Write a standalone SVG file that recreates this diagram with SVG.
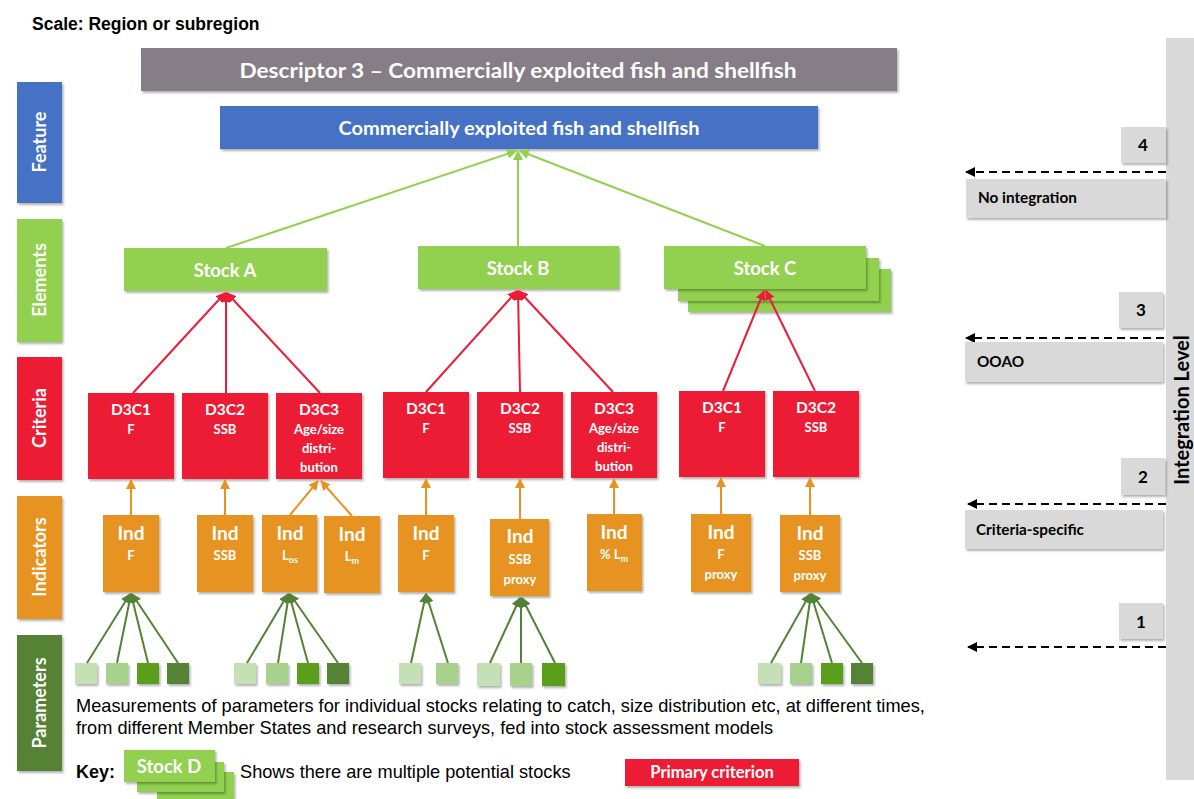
<svg xmlns="http://www.w3.org/2000/svg" width="1194" height="799" viewBox="0 0 1194 799">
<defs>
<filter id="sh" x="-10%" y="-10%" width="130%" height="150%"><feDropShadow dx="1.5" dy="2" stdDeviation="1.2" flood-color="#000" flood-opacity="0.3"/></filter>
<marker id="aG" viewBox="0 0 10 10" refX="9" refY="5" markerWidth="10" markerHeight="10" markerUnits="userSpaceOnUse" orient="auto"><path d="M0,0 L10,5 L0,10 z" fill="#92D050"/></marker>
<marker id="aR" viewBox="0 0 10 10" refX="9" refY="5" markerWidth="10" markerHeight="10" markerUnits="userSpaceOnUse" orient="auto"><path d="M0,0 L10,5 L0,10 z" fill="#ED1C36"/></marker>
<marker id="aO" viewBox="0 0 10 10" refX="9" refY="5" markerWidth="10" markerHeight="10" markerUnits="userSpaceOnUse" orient="auto"><path d="M0,0 L10,5 L0,10 z" fill="#E69323"/></marker>
<marker id="aD" viewBox="0 0 10 10" refX="9" refY="5" markerWidth="10" markerHeight="10" markerUnits="userSpaceOnUse" orient="auto"><path d="M0,0 L10,5 L0,10 z" fill="#548235"/></marker>
<marker id="aK" viewBox="0 0 10 10" refX="9" refY="5" markerWidth="10" markerHeight="10" markerUnits="userSpaceOnUse" orient="auto"><path d="M0,0 L10,5 L0,10 z" fill="#000"/></marker>
</defs>
<style>
.bx{filter:url(#sh)}
.gray{fill:#857E86}
.blue{fill:#4472C4}
.grn{fill:#92D050}
.red{fill:#ED1C36}
.org{fill:#E69323}
.dgr{fill:#548235}
.lg{fill:#D9D9D9}
.p1{fill:#C5E0B4}
.p2{fill:#A9D18E}
.p3{fill:#5A9E1E}
.p4{fill:#548235}
.w{fill:#fff;font-family:Lato,"Open Sans",sans-serif;font-weight:bold;text-anchor:middle}
.k{fill:#000;font-family:Lato,"Open Sans",sans-serif;font-weight:bold}
.ar{fill:#000;font-family:"Liberation Sans",Arial,sans-serif}
.cl{font-size:15.5px}
.cs{font-size:13px}
.il{font-size:19px}
.is{font-size:13px}
.lG{stroke:#92D050;stroke-width:2;fill:none;marker-end:url(#aG)}
.lR{stroke:#ED1C36;stroke-width:2;fill:none;marker-end:url(#aR)}
.lO{stroke:#E69323;stroke-width:2;fill:none;marker-end:url(#aO)}
.lD{stroke:#548235;stroke-width:2;fill:none;marker-end:url(#aD)}
.lK{stroke:#000;stroke-width:2;stroke-dasharray:8 5;fill:none;marker-end:url(#aK)}
</style>

<text class="ar" x="32" y="30" font-size="17.5" font-weight="bold">Scale: Region or subregion</text>

<!-- left level bars -->
<g id="lvl-feature"><rect class="blue bx" x="17" y="82" width="45" height="121"/><text class="w" font-size="18" transform="translate(46,142) rotate(-90)">Feature</text></g>
<g id="lvl-elements"><rect class="grn bx" x="17" y="219" width="45" height="123"/><text class="w" font-size="18" transform="translate(46,280) rotate(-90)">Elements</text></g>
<g id="lvl-criteria"><rect class="red bx" x="17" y="357" width="45" height="123"/><text class="w" font-size="18" transform="translate(46,418) rotate(-90)">Criteria</text></g>
<g id="lvl-indicators"><rect class="org bx" x="17" y="496" width="45" height="123"/><text class="w" font-size="18" transform="translate(46,557) rotate(-90)">Indicators</text></g>
<g id="lvl-parameters"><rect class="dgr bx" x="17" y="635" width="45" height="136"/><text class="w" font-size="18" transform="translate(46,703) rotate(-90)">Parameters</text></g>

<!-- top -->
<g id="descriptor"><rect class="gray bx" x="141" y="48" width="756" height="43"/><text class="w" x="518" y="78" font-size="21" textLength="557" lengthAdjust="spacingAndGlyphs">Descriptor 3 – Commercially exploited fish and shellfish</text></g>
<g id="feature"><rect class="blue bx" x="220" y="106" width="598" height="43"/><text class="w" x="519" y="135" font-size="18" textLength="361" lengthAdjust="spacingAndGlyphs">Commercially exploited fish and shellfish</text></g>

<!-- stocks -->
<g id="stockA"><rect class="grn bx" x="124" y="248" width="203" height="43"/><text class="w" x="225" y="277" font-size="18.5">Stock A</text></g>
<g id="stockB"><rect class="grn bx" x="418" y="246" width="201" height="43"/><text class="w" x="518" y="275" font-size="18.5">Stock B</text></g>
<g id="stockC"><rect class="grn bx" x="688" y="269" width="203" height="43"/><rect class="grn bx" x="678" y="258" width="201" height="43"/><rect class="grn bx" x="664" y="246" width="202" height="43"/><text class="w" x="765" y="275" font-size="18.5">Stock C</text></g>

<!-- criteria -->
<g id="critA1"><rect class="red bx" x="88" y="393" width="86" height="86"/><text class="w cl" x="131" y="415">D3C1</text><text class="w cs" x="131" y="434">F</text></g>
<g id="critA2"><rect class="red bx" x="182" y="393" width="86" height="86"/><text class="w cl" x="225" y="415">D3C2</text><text class="w cs" x="225" y="434">SSB</text></g>
<g id="critA3"><rect class="red bx" x="276" y="393" width="86" height="86"/><text class="w cl" x="319" y="415">D3C3</text><text class="w cs" x="319" y="434">Age/size</text><text class="w cs" x="319" y="453">distri-</text><text class="w cs" x="319" y="472">bution</text></g>
<g id="critB1"><rect class="red bx" x="383" y="392" width="86" height="86"/><text class="w cl" x="426" y="414">D3C1</text><text class="w cs" x="426" y="433">F</text></g>
<g id="critB2"><rect class="red bx" x="477" y="392" width="86" height="86"/><text class="w cl" x="520" y="414">D3C2</text><text class="w cs" x="520" y="433">SSB</text></g>
<g id="critB3"><rect class="red bx" x="571" y="392" width="86" height="86"/><text class="w cl" x="614" y="414">D3C3</text><text class="w cs" x="614" y="433">Age/size</text><text class="w cs" x="614" y="452">distri-</text><text class="w cs" x="614" y="471">bution</text></g>
<g id="critC1"><rect class="red bx" x="679" y="391" width="86" height="86"/><text class="w cl" x="722" y="413">D3C1</text><text class="w cs" x="722" y="432">F</text></g>
<g id="critC2"><rect class="red bx" x="773" y="391" width="86" height="86"/><text class="w cl" x="816" y="413">D3C2</text><text class="w cs" x="816" y="432">SSB</text></g>

<!-- indicators -->
<g id="indA1"><rect class="org bx" x="103" y="515" width="56" height="77"/><text class="w il" x="131" y="540">Ind</text><text class="w is" x="131" y="560">F</text></g>
<g id="indA2"><rect class="org bx" x="197" y="515" width="56" height="77"/><text class="w il" x="225" y="540">Ind</text><text class="w is" x="225" y="560">SSB</text></g>
<g id="indA3"><rect class="org bx" x="262" y="515" width="55" height="77"/><text class="w il" x="290" y="540">Ind</text><text class="w is" x="290" y="560">L<tspan font-size="9" dy="3">os</tspan></text></g>
<g id="indA4"><rect class="org bx" x="324" y="516" width="56" height="77"/><text class="w il" x="352" y="541">Ind</text><text class="w is" x="352" y="561">L<tspan font-size="9" dy="3">m</tspan></text></g>
<g id="indB1"><rect class="org bx" x="398" y="515" width="56" height="77"/><text class="w il" x="426" y="540">Ind</text><text class="w is" x="426" y="560">F</text></g>
<g id="indB2"><rect class="org bx" x="490" y="519" width="59" height="77"/><text class="w il" x="520" y="543">Ind</text><text class="w is" x="520" y="564">SSB</text><text class="w is" x="520" y="584">proxy</text></g>
<g id="indB3"><rect class="org bx" x="587" y="514" width="55" height="77"/><text class="w il" x="614" y="539">Ind</text><text class="w is" x="614" y="559">% L<tspan font-size="9" dy="3">m</tspan></text></g>
<g id="indC1"><rect class="org bx" x="691" y="514" width="60" height="78"/><text class="w il" x="721" y="539">Ind</text><text class="w is" x="721" y="559">F</text><text class="w is" x="721" y="579">proxy</text></g>
<g id="indC2"><rect class="org bx" x="780" y="515" width="60" height="77"/><text class="w il" x="810" y="540">Ind</text><text class="w is" x="810" y="560">SSB</text><text class="w is" x="810" y="580">proxy</text></g>

<!-- parameters -->
<g id="params1"><rect class="p1 bx" x="75" y="663" width="22" height="21"/><rect class="p2 bx" x="106" y="663" width="22" height="21"/><rect class="p3 bx" x="137" y="663" width="22" height="21"/><rect class="p4 bx" x="167" y="663" width="22" height="21"/></g>
<g id="params2"><rect class="p1 bx" x="234" y="663" width="22" height="21"/><rect class="p2 bx" x="266" y="663" width="22" height="21"/><rect class="p3 bx" x="297" y="663" width="22" height="21"/><rect class="p4 bx" x="327" y="663" width="22" height="21"/></g>
<g id="params3"><rect class="p1 bx" x="399" y="663" width="22" height="21"/><rect class="p2 bx" x="436" y="663" width="22" height="21"/></g>
<g id="params4"><rect class="p1 bx" x="477" y="663" width="23" height="23"/><rect class="p2 bx" x="510" y="663" width="22" height="23"/><rect class="p3 bx" x="542" y="663" width="23" height="23"/></g>
<g id="params5"><rect class="p1 bx" x="758" y="663" width="23" height="21"/><rect class="p2 bx" x="790" y="663" width="22" height="21"/><rect class="p3 bx" x="821" y="663" width="22" height="21"/><rect class="p4 bx" x="851" y="663" width="22" height="21"/></g>

<!-- connectors -->
<g id="connectors">
<line class="lG" x1="226" y1="248" x2="516" y2="151"/>
<line class="lG" x1="518" y1="246" x2="518" y2="151"/>
<line class="lG" x1="765" y1="246" x2="520" y2="151"/>
<line class="lR" x1="133" y1="393" x2="225" y2="293"/>
<line class="lR" x1="226" y1="393" x2="226" y2="293"/>
<line class="lR" x1="320" y1="393" x2="227" y2="293"/>
<line class="lR" x1="426" y1="392" x2="517" y2="291"/>
<line class="lR" x1="520" y1="392" x2="518" y2="291"/>
<line class="lR" x1="613" y1="392" x2="519" y2="291"/>
<line class="lR" x1="723" y1="391" x2="764" y2="291"/>
<line class="lR" x1="815" y1="391" x2="766" y2="291"/>
<line class="lO" x1="131" y1="515" x2="131" y2="480"/>
<line class="lO" x1="225" y1="515" x2="225" y2="480"/>
<line class="lO" x1="290" y1="515" x2="318" y2="481"/>
<line class="lO" x1="352" y1="516" x2="321" y2="481"/>
<line class="lO" x1="426" y1="515" x2="426" y2="479"/>
<line class="lO" x1="520" y1="519" x2="520" y2="479"/>
<line class="lO" x1="614" y1="514" x2="614" y2="479"/>
<line class="lO" x1="721" y1="514" x2="721" y2="478"/>
<line class="lO" x1="810" y1="515" x2="810" y2="478"/>
<line class="lD" x1="87" y1="663" x2="130" y2="594"/>
<line class="lD" x1="117" y1="663" x2="131" y2="594"/>
<line class="lD" x1="148" y1="663" x2="131" y2="594"/>
<line class="lD" x1="178" y1="663" x2="132" y2="594"/>
<line class="lD" x1="247" y1="663" x2="288" y2="594"/>
<line class="lD" x1="278" y1="663" x2="289" y2="594"/>
<line class="lD" x1="308" y1="663" x2="289" y2="594"/>
<line class="lD" x1="338" y1="663" x2="290" y2="594"/>
<line class="lD" x1="411" y1="663" x2="426" y2="594"/>
<line class="lD" x1="448" y1="663" x2="426" y2="594"/>
<line class="lD" x1="490" y1="663" x2="520" y2="598"/>
<line class="lD" x1="521" y1="663" x2="521" y2="598"/>
<line class="lD" x1="555" y1="663" x2="522" y2="598"/>
<line class="lD" x1="771" y1="663" x2="810" y2="594"/>
<line class="lD" x1="801" y1="663" x2="811" y2="594"/>
<line class="lD" x1="832" y1="663" x2="811" y2="594"/>
<line class="lD" x1="862" y1="663" x2="812" y2="594"/>
<line class="lK" x1="1166" y1="172" x2="966" y2="172"/>
<line class="lK" x1="1164" y1="338" x2="966" y2="338"/>
<line class="lK" x1="1166" y1="504" x2="968" y2="504"/>
<line class="lK" x1="1166" y1="647" x2="968" y2="647"/>
</g>

<!-- descriptive text -->
<text class="ar" x="76" y="712" font-size="18.2">Measurements of parameters for individual stocks relating to catch, size distribution etc, at different times,</text>
<text class="ar" x="76" y="734" font-size="18.2">from different Member States and research surveys, fed into stock assessment models</text>

<!-- key -->
<g id="key">
<text class="ar" x="76" y="778" font-size="18" font-weight="bold">Key:</text>
<rect class="grn bx" x="157" y="772" width="77" height="30"/>
<rect class="grn bx" x="137" y="762" width="87" height="30"/>
<rect class="grn bx" x="124" y="750" width="91" height="32"/>
<text class="w" x="169" y="773" font-size="18.5">Stock D</text>
<text class="ar" x="240" y="778" font-size="18.2">Shows there are multiple potential stocks</text>
<rect class="red bx" x="625" y="759" width="174" height="27"/>
<text class="w" x="712" y="778" font-size="16.5">Primary criterion</text>
</g>

<!-- integration levels -->
<g id="integration-bar"><rect class="lg" x="1166" y="38" width="30" height="742"/><text class="k" font-size="20" text-anchor="middle" transform="translate(1189,410) rotate(-90)">Integration Level</text></g>
<g id="lvl4"><rect class="lg bx" x="1121" y="127" width="45" height="36"/><text class="k" x="1143" y="151" font-size="17" text-anchor="middle">4</text></g>
<g id="no-integration"><rect class="lg bx" x="966" y="179" width="200" height="39"/><text class="k" x="978" y="203" font-size="15.3">No integration</text></g>
<g id="lvl3"><rect class="lg bx" x="1119" y="292" width="44" height="36"/><text class="k" x="1141" y="316" font-size="17" text-anchor="middle">3</text></g>
<g id="ooao"><rect class="lg bx" x="965" y="342" width="198" height="40"/><text class="k" x="977" y="367" font-size="15.3">OOAO</text></g>
<g id="lvl2"><rect class="lg bx" x="1121" y="458" width="44" height="37"/><text class="k" x="1143" y="483" font-size="17" text-anchor="middle">2</text></g>
<g id="criteria-specific"><rect class="lg bx" x="965" y="510" width="198" height="39"/><text class="k" x="976" y="535" font-size="15.3">Criteria-specific</text></g>
<g id="lvl1"><rect class="lg bx" x="1119" y="603" width="44" height="36"/><text class="k" x="1141" y="628" font-size="17" text-anchor="middle">1</text></g>
</svg>
